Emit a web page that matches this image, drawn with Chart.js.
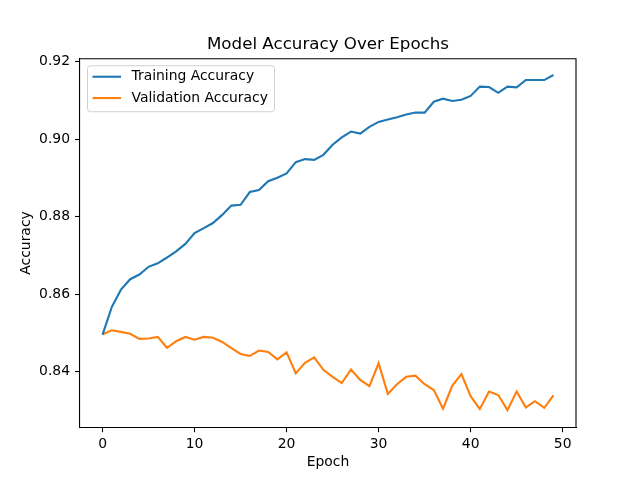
<!DOCTYPE html>
<html>
<head>
<meta charset="utf-8">
<script src="https://cdn.jsdelivr.net/npm/chart.js@4.4.1/dist/chart.umd.min.js"></script>
<style>
  html, body { margin: 0; padding: 0; background: #fff; }
  canvas { display: block; }
</style>
</head>
<body>
<canvas id="accChart" width="640" height="480"></canvas>
<script>
const epochs = [0, 1, 2, 3, 4, 5, 6, 7, 8, 9, 10, 11, 12, 13, 14, 15, 16, 17, 18, 19,
  20, 21, 22, 23, 24, 25, 26, 27, 28, 29, 30, 31, 32, 33, 34, 35, 36, 37, 38, 39,
  40, 41, 42, 43, 44, 45, 46, 47, 48, 49];

const trainAcc = [0.8496, 0.8567, 0.8612, 0.8639, 0.8651, 0.8671, 0.8680, 0.8695, 0.8711, 0.8730,
  0.8758, 0.8771, 0.8784, 0.8805, 0.8829, 0.8831, 0.8864, 0.8869, 0.8892, 0.8901,
  0.8912, 0.8941, 0.8949, 0.8947, 0.8960, 0.8986, 0.9005, 0.9020, 0.9015, 0.9032,
  0.9045, 0.9051, 0.9057, 0.9064, 0.9069, 0.9069, 0.9097, 0.9105, 0.9099, 0.9102,
  0.9112, 0.9136, 0.9135, 0.9120, 0.9136, 0.9134, 0.9153, 0.9153, 0.9153, 0.9166];

const valAcc = [0.8497, 0.8507, 0.8503, 0.8498, 0.8485, 0.8486, 0.8490, 0.8462, 0.8479, 0.8490,
  0.8483, 0.8490, 0.8488, 0.8477, 0.8461, 0.8446, 0.8441, 0.8455, 0.8451, 0.8432,
  0.8450, 0.8396, 0.8423, 0.8437, 0.8405, 0.8387, 0.8371, 0.8406, 0.8379, 0.8363,
  0.8422, 0.8343, 0.8368, 0.8387, 0.8390, 0.8368, 0.8353, 0.8305, 0.8364, 0.8394,
  0.8337, 0.8304, 0.8349, 0.8340, 0.8301, 0.8349, 0.8308, 0.8324, 0.8307, 0.8339];

const xTicks = [0, 10, 20, 30, 40, 50];
const yTicks = [0.84, 0.86, 0.88, 0.90, 0.92];

// matplotlib default colours
const blue = '#1f77b4';
const orange = '#ff7f0e';
const font = 'DejaVu Sans';

// top and right spines
const framePlugin = {
  id: 'frame',
  afterDatasetsDraw(chart) {
    const { ctx, chartArea: a } = chart;
    ctx.save();
    ctx.strokeStyle = '#000';
    ctx.lineWidth = 1.1;
    ctx.beginPath();
    ctx.moveTo(a.left, a.top);
    ctx.lineTo(a.right, a.top);
    ctx.lineTo(a.right, a.bottom);
    ctx.stroke();
    ctx.restore();
  }
};

// legend box inside the plot, top left
const legendPlugin = {
  id: 'boxLegend',
  afterDraw(chart) {
    const { ctx, chartArea: a } = chart;
    const x = a.left + 7.5, y = a.top + 7, w = 187, h = 46, r = 3;
    ctx.save();
    ctx.beginPath();
    ctx.roundRect(x, y, w, h, r);
    ctx.fillStyle = 'rgba(255,255,255,0.8)';
    ctx.fill();
    ctx.strokeStyle = '#d0d0d0';
    ctx.lineWidth = 1;
    ctx.stroke();
    ctx.font = '13.9px "' + font + '"';
    ctx.textBaseline = 'middle';
    ctx.fillStyle = '#000';
    chart.data.datasets.forEach((ds, i) => {
      const ly = y + 11 + i * 21.3;
      ctx.strokeStyle = ds.borderColor;
      ctx.lineWidth = 2.1;
      ctx.beginPath();
      ctx.moveTo(x + 5, ly);
      ctx.lineTo(x + 33.5, ly);
      ctx.stroke();
      ctx.fillText(ds.label, x + 44, ly);
    });
    ctx.restore();
  }
};

new Chart(document.getElementById('accChart').getContext('2d'), {
  type: 'line',
  data: {
    datasets: [{
      label: 'Training Accuracy',
      data: epochs.map((e, i) => ({ x: e, y: trainAcc[i] })),
      borderColor: blue,
      backgroundColor: blue,
      borderWidth: 2.1,
      pointRadius: 0,
      tension: 0
    }, {
      label: 'Validation Accuracy',
      data: epochs.map((e, i) => ({ x: e, y: valAcc[i] })),
      borderColor: orange,
      backgroundColor: orange,
      borderWidth: 2.1,
      pointRadius: 0,
      tension: 0
    }]
  },
  options: {
    responsive: false,
    animation: false,
    // left padding so the title centres over the plot area
    layout: { padding: { left: 16, right: 0, top: 0, bottom: 0 } },
    plugins: {
      legend: { display: false },
      tooltip: { enabled: false },
      title: {
        display: true,
        text: 'Model Accuracy Over Epochs',
        color: '#000',
        font: { family: font, size: 16.7, weight: 'normal', lineHeight: 1.2 },
        padding: { top: 34.5, bottom: 4.2 }
      }
    },
    scales: {
      x: {
        type: 'linear',
        min: -2.45,
        max: 51.45,
        afterBuildTicks: s => { s.ticks = xTicks.map(v => ({ value: v })); },
        afterFit: s => { s.height = 52.8; },
        grid: { drawOnChartArea: false, drawTicks: true, tickLength: 5, tickColor: '#000', tickWidth: 1.1 },
        border: { color: '#000', width: 1.1 },
        ticks: { color: '#000', padding: 4, maxRotation: 0, font: { family: font, size: 13.9 } },
        title: {
          display: true,
          text: 'Epoch',
          color: '#000',
          font: { family: font, size: 13.9 },
          padding: { top: 0, bottom: 9.5 }
        }
      },
      y: {
        type: 'linear',
        min: 0.8257,
        max: 0.9208,
        afterBuildTicks: s => { s.ticks = yTicks.map(v => ({ value: v })); },
        afterFit: s => { s.width = 64; },
        grid: { drawOnChartArea: false, drawTicks: true, tickLength: 5, tickColor: '#000', tickWidth: 1.1 },
        border: { color: '#000', width: 1.1 },
        ticks: {
          color: '#000',
          padding: 5,
          font: { family: font, size: 13.9 },
          callback: v => v.toFixed(2)
        },
        title: {
          display: true,
          text: 'Accuracy',
          color: '#000',
          font: { family: font, size: 13.9 },
          padding: { top: 2.5, bottom: 0 }
        }
      },
      // empty right-hand axis, only reserves the margin right of the plot
      yRight: {
        type: 'linear',
        position: 'right',
        afterFit: s => { s.width = 64; },
        grid: { display: false },
        border: { display: false },
        ticks: { display: false }
      }
    }
  },
  plugins: [framePlugin, legendPlugin]
});
</script>
</body>
</html>
